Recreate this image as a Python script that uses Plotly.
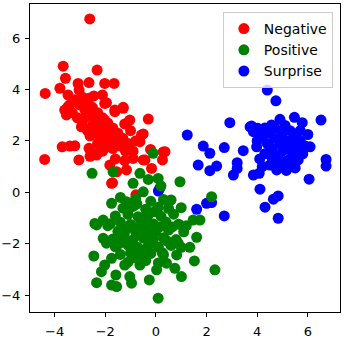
import plotly.graph_objects as go

# Negative cluster
neg_x = [-2.61, -3.66, -2.32, -3.57, -3.07, -2.64, -2.02, -1.65, -3.79, -4.37,
         -3.47, -3.03, -2.64, -2.11, -1.95, -3.47, -1.62, -1.29, -3.53, -1.03,
         -1.23, -0.30, -2.02, -2.94, -1.69, -0.50, -0.63, -1.42, -2.21, -3.70,
         -3.20, -3.40, -2.64, -2.15, -1.82, -4.39, -3.04, -2.34, -1.23, -0.90,
         -0.50, -0.21, 0.29, 0.26, -1.82, -1.55, -1.16, -0.17, -1.71, -0.79,
         -2.02, -1.29, -1.62, -1.16, -0.57, -1.36, -0.43, 0.36, -1.75, -2.34,
         -2.41, -3.20, -3.00, -2.90, -2.80, -2.70, -2.60, -2.50, -2.40, -2.30,
         -2.20, -2.10, -2.00, -1.90, -1.80, -1.70, -1.60, -1.50, -1.40, -1.30,
         -1.20, -3.30, -3.10, -2.90, -2.70, -2.60, -2.80, -2.50, -2.40, -2.20,
         -2.00, -1.90, -1.70, -2.30, -2.10, -3.40, -3.60, -2.45, -1.10, -0.90,
         -0.80, -1.00, -2.60, -1.60]
neg_y = [6.75, 4.91, 4.76, 4.44, 4.24, 4.27, 4.24, 4.24, 4.05, 3.85,
         3.79, 3.98, 3.66, 3.79, 3.49, 3.33, 3.20, 3.31, 3.01, 2.81,
         2.66, 2.85, 2.81, 2.55, 2.36, 2.27, 1.97, 1.91, 2.16, 1.77,
         1.81, 1.80, 1.71, 1.69, 1.77, 1.28, 1.26, 1.45, 1.23, 1.32,
         1.26, 1.67, 1.57, 1.26, 1.06, 0.80, 0.87, 0.93, 0.37, -0.10,
         3.46, 3.27, 3.14, 2.68, 2.23, 1.97, 1.26, 1.58, 0.35, 1.52,
         3.07, 3.60, 3.40, 3.70, 3.20, 3.50, 3.00, 3.30, 2.80, 3.10,
         2.60, 2.90, 2.40, 2.70, 2.20, 2.50, 2.00, 2.30, 1.80, 2.10,
         1.60, 3.10, 2.90, 2.60, 2.40, 2.20, 2.90, 2.60, 2.40, 2.20,
         2.00, 1.80, 1.70, 1.90, 1.60, 3.40, 3.20, 3.75, 1.90, 1.60,
         2.00, 2.40, 1.40, 1.30]

# Positive cluster
pos_x = [-2.52, -1.69, -0.63, -0.90, -0.50, -1.75, -1.16, -2.41, -2.08, -0.11,
         0.09, 0.95, 2.20, 1.74, 1.47, 1.61, 1.34, 1.52, 2.33, 1.01,
         0.09, -2.34, -2.45, -1.75, -1.55, -0.96, -0.26, -2.15, -2.34, -2.08,
         -1.95, -2.02, -1.58, -1.03, 0.03, 0.75, -1.75, -1.23, -0.63, 0.42,
         0.82, 0.88, 0.20, 0.60, 1.00, 1.20, -0.30, -1.40, -1.90,
         -0.80, -0.20, 0.30,
         -1.30, -0.90, -0.40, 0.10, 0.50,
         -1.60, -1.10, -0.70, -0.30, 0.20, 0.70,
         -1.80, -1.40, -1.00, -0.60, -0.10, 0.40, 0.90,
         -1.50, -1.20, -0.80, -0.40, 0.00, 0.50, 1.10,
         -1.70, -1.30, -0.90, -0.50, -0.10, 0.30, 0.80,
         -1.60, -1.10, -0.70, -0.30, 0.10, 0.60, 1.00,
         -1.40, -1.00, -0.60, -0.20, 0.30,
         -1.10, -0.40, 0.10,
         -0.65, -0.25, -0.95, 0.15, -0.45, -1.25, 0.45, -0.75, -0.05,
         -0.55, -0.15, -1.05, 0.25, -0.85, -0.35, 0.65, -1.45]
pos_y = [0.74, 0.80, 0.74, 0.35, 0.02, -0.43, -0.37, -1.21, -1.08, 1.52,
         0.54, 0.41, -0.17, -1.08, -1.08, -1.75, -2.14, -2.67, -3.02, -3.28,
         -4.12, -3.52, -2.48, -3.61, -3.67, -3.54, -3.41, -3.09, -1.27, -1.79,
         -1.98, -2.83, -3.22, -3.28, -3.02, -2.96, -2.57, -2.83, -2.83, -2.76,
         -2.44, -1.98, 0.25, -0.30, -0.60, -1.30, 0.50, -0.20, -1.30,
         -0.25, -0.35, -0.28,
         -0.62, -0.55, -0.66, -0.58, -0.63,
         -0.92, -0.86, -0.95, -0.88, -0.93, -0.85,
         -1.22, -1.17, -1.25, -1.18, -1.23, -1.16, -1.24,
         -1.52, -1.46, -1.55, -1.48, -1.53, -1.47, -1.54,
         -1.82, -1.76, -1.85, -1.78, -1.83, -1.77, -1.84,
         -2.12, -2.06, -2.15, -2.08, -2.13, -2.07, -2.14,
         -2.42, -2.36, -2.45, -2.38, -2.43,
         -2.72, -2.66, -2.75,
         -1.35, -1.65, -1.95, -1.35, -2.25, -1.65, -1.90, -0.45, -0.75,
         -1.05, -1.95, -1.35, -2.35, -2.55, -1.10, -1.35, -2.00]

# Surprise cluster
sur_x = [4.40, 4.74, 2.92, 1.24, 1.87, 2.13, 2.70, 3.45, 3.21, 3.78,
         3.85, 4.02, 4.57, 4.90, 5.47, 5.78, 6.52, 6.09, 6.72, 6.72,
         6.05, 3.98, 1.67, 2.13, 2.40, 3.06, 3.21, 3.85, 4.08, 4.11,
         4.50, 4.31, 4.64, 4.83, 4.83, 4.77, 5.62, 1.61, 2.00, 2.20,
         2.70, 0.16, 0.10, 3.72,
         4.20, 4.40, 4.30, 4.50, 4.60, 4.70, 4.80, 4.90, 5.00, 5.00,
         5.10, 5.20, 5.20, 5.30, 5.40, 5.40, 5.50, 5.60, 5.70, 5.80,
         5.60, 4.60, 4.90, 5.30, 4.10, 4.30, 5.10, 5.70, 5.90, 4.70,
         5.00, 5.30, 4.50, 4.00, 5.15, 5.50, 6.00, 4.20]
sur_y = [3.98, 3.56, 2.71, 2.23, 1.80, 1.52, 1.74, 1.62, 1.15, 2.58,
         2.36, 2.49, 2.62, 2.84, 2.92, 2.71, 2.81, 1.77, 1.28, 1.02,
         0.51, 1.77, 1.06, 0.84, 1.02, 0.67, 0.93, 0.67, 0.74, 0.12,
         1.06, -0.58, -0.27, -0.14, -1.01, 0.87, 1.26, -0.66, -0.43, -0.40,
         -0.92, 0.16, 0.05, 2.55,
         2.20, 1.90, 1.50, 2.30, 1.70, 2.10, 1.40, 1.90, 2.30, 1.60,
         1.20, 2.00, 1.70, 2.40, 1.50, 1.90, 2.20, 1.70, 2.00, 1.50,
         1.30, 1.30, 1.10, 1.00, 1.30, 2.50, 2.60, 2.40, 1.80, 2.50,
         2.00, 1.30, 1.60, 2.00, 0.85, 0.95, 2.25, 1.00]

x_ticks = [-4, -2, 0, 2, 4, 6]
y_ticks = [-4, -2, 0, 2, 4, 6]

fig = go.Figure()

# drawing order: red, blue, green (green covers the stray blue points)
fig.add_trace(go.Scatter(x=neg_x, y=neg_y, mode="markers", name="Negative",
                         marker=dict(color="#ff0000", size=11), legendrank=1))
fig.add_trace(go.Scatter(x=sur_x, y=sur_y, mode="markers", name="Surprise",
                         marker=dict(color="#0000ff", size=11), legendrank=3))
fig.add_trace(go.Scatter(x=pos_x, y=pos_y, mode="markers", name="Positive",
                         marker=dict(color="#008000", size=11), legendrank=2))

axis_style = dict(
    showgrid=False, zeroline=False, automargin=False,
    showline=True, linecolor="black", linewidth=1, mirror=True,
    ticks="outside", ticklen=4, tickcolor="black",
    tickfont=dict(family="DejaVu Sans", size=13, color="black"),
)

fig.update_layout(
    width=345, height=338,
    paper_bgcolor="white", plot_bgcolor="white",
    margin=dict(l=30, r=5, t=4, b=26, pad=0),
    font=dict(family="DejaVu Sans", size=13, color="black"),
    xaxis=dict(range=[-4.97, 7.27], tickvals=x_ticks, ticklabelstandoff=3, **axis_style),
    yaxis=dict(range=[-4.66, 7.33], tickvals=y_ticks, ticklabelstandoff=2, **axis_style),
    legend=dict(x=0.977, y=0.974, xanchor="right", yanchor="top",
                bgcolor="rgba(255,255,255,0.8)", bordercolor="#cccccc",
                borderwidth=1, font=dict(size=14), tracegroupgap=0,
                itemwidth=30),
    showlegend=True,
)

fig.write_html("out.html", config={"displayModeBar": False},
               post_script="document.body.style.margin='0px';")
